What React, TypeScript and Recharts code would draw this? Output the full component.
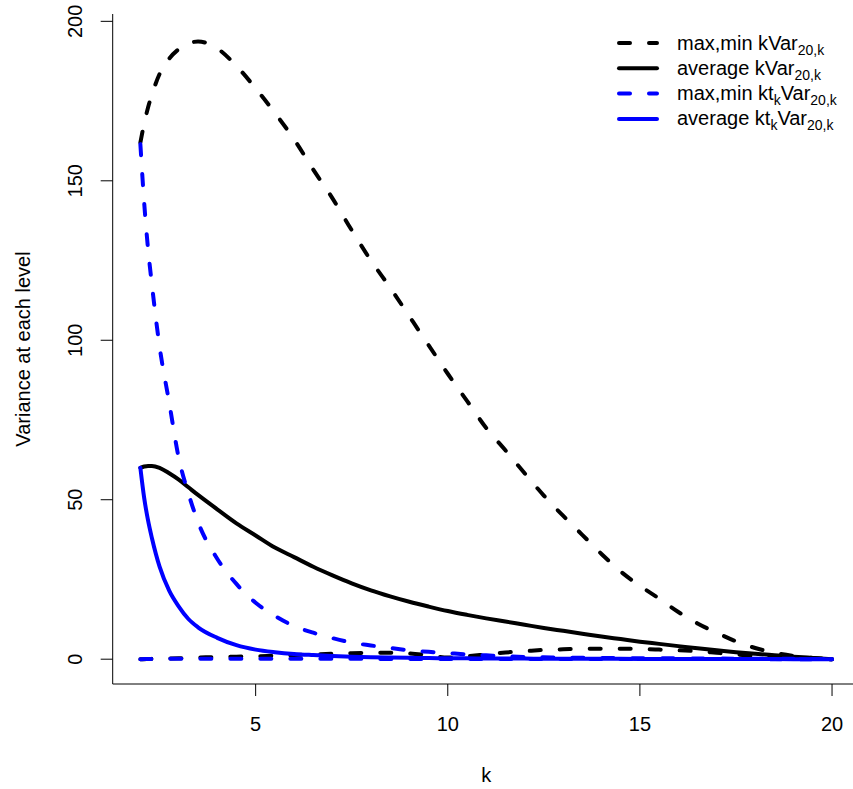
import React from 'react';
import { LineChart, Line, XAxis, YAxis, Legend, Label } from 'recharts';

// level k at which the variances were evaluated
const kValues = [2, 2.1, 2.2, 2.3, 2.5, 2.75, 3, 3.25, 3.5, 4, 4.5, 5, 5.5, 6, 6.5, 7, 7.5, 8, 8.5, 9, 9.5, 10, 10.5, 11, 11.5, 12, 12.5, 13, 13.5, 14, 14.5, 15, 15.5, 16, 16.5, 17, 17.5, 18, 18.5, 19, 19.5, 20];

// k * Var_{20,k}
const maxKVar = [162, 168, 173, 177, 183.5, 188.3, 191.3, 193, 193.7, 191.5, 186, 179, 171.3, 163, 153.5, 144.5, 134.5, 125, 116.5, 107.5, 98.5, 89.5, 81, 72.5, 65.5, 58.3, 51.3, 45, 39, 33, 27.5, 23, 19, 14.8, 11.2, 8.3, 5.6, 3.5, 2, 1, 0.4, 0];
const minKVar = [0, 0, 0.05, 0.1, 0.1, 0.2, 0.3, 0.4, 0.5, 0.7, 0.8, 0.9, 1.1, 1.3, 1.5, 1.7, 1.9, 2, 2, 1.8, 1.2, 0.5, 0.9, 1.5, 2.1, 2.5, 2.9, 3.1, 3.3, 3.3, 3.3, 3.2, 3, 2.8, 2.5, 2, 1.5, 1, 0.6, 0.3, 0.1, 0];
const avgKVar = [60, 60.4, 60.6, 60.6, 60, 58.3, 56.3, 53.9, 51.5, 47, 42.6, 38.8, 35, 32, 29, 26.3, 23.8, 21.6, 19.7, 18, 16.5, 15.1, 13.9, 12.8, 11.8, 10.8, 9.8, 8.9, 8, 7.1, 6.3, 5.5, 4.8, 4.1, 3.4, 2.8, 2.2, 1.7, 1.25, 0.8, 0.4, 0];

// k * t_k * Var_{20,k}
const maxKtVar = [161.5, 143, 128.6, 117.5, 98, 80.5, 63, 52, 43, 31.5, 23.6, 17.7, 13.6, 10.4, 8.3, 6.6, 5.2, 4.3, 3.5, 2.8, 2.3, 1.9, 1.5, 1.2, 0.9, 0.7, 0.6, 0.5, 0.45, 0.4, 0.35, 0.3, 0.28, 0.25, 0.22, 0.2, 0.17, 0.15, 0.12, 0.1, 0.05, 0];
const minKtVar = [0, 0.02, 0.05, 0.08, 0.1, 0.12, 0.15, 0.15, 0.15, 0.15, 0.15, 0.15, 0.12, 0.12, 0.1, 0.1, 0.1, 0.1, 0.08, 0.08, 0.08, 0.08, 0.06, 0.06, 0.06, 0.06, 0.05, 0.05, 0.05, 0.04, 0.04, 0.04, 0.03, 0.03, 0.03, 0.02, 0.02, 0.02, 0.01, 0.01, 0, 0];
const avgKtVar = [60, 50.5, 43.5, 38, 29, 21.5, 16.5, 12.6, 10, 6.7, 4.4, 3, 2.2, 1.65, 1.3, 1, 0.75, 0.6, 0.5, 0.42, 0.36, 0.3, 0.26, 0.23, 0.2, 0.18, 0.16, 0.14, 0.12, 0.11, 0.1, 0.09, 0.08, 0.07, 0.06, 0.05, 0.04, 0.03, 0.02, 0.01, 0.005, 0];

const xTicks = [5, 10, 15, 20];
const yTicks = [0, 50, 100, 150, 200];

const data = kValues.map((k, i) => ({
  k,
  maxK: maxKVar[i],
  minK: minKVar[i],
  avgK: avgKVar[i],
  maxKt: maxKtVar[i],
  minKt: minKtVar[i],
  avgKt: avgKtVar[i],
}));

const FONT = '"Liberation Sans", Arial, Helvetica, sans-serif';
const BLUE = '#0000ff';
const DASH = '11 19';

// R style: 4% padding on both ends of the data range
const xDomain = [1.28, 20.72];
const yDomain = [-7.78, 202.3];

const XTick = ({ x, y, payload }: any) => (
  <text x={x} y={y} dy={35} textAnchor="middle" fontSize={20} fontFamily={FONT} fill="#000">
    {payload.value}
  </text>
);

const YTick = ({ x, y, payload }: any) => (
  <text
    transform={`translate(${x - 26.2},${y}) rotate(-90)`}
    dy="0.36em"
    textAnchor="middle"
    fontSize={20}
    fontFamily={FONT}
    fill="#000"
  >
    {payload.value}
  </text>
);

const legendRows = [
  { color: '#000', dashed: true, main: 'max,min k', kt: false },
  { color: '#000', dashed: false, main: 'average k', kt: false },
  { color: BLUE, dashed: true, main: 'max,min kt', kt: true },
  { color: BLUE, dashed: false, main: 'average kt', kt: true },
];

const LegendBox = () => (
  <svg width={253} height={120} style={{ display: 'block' }}>
    {legendRows.map((r, i) => {
      const y = 23 + i * 25.3;
      return (
        <g key={i}>
          <line
            x1={19}
            x2={57}
            y1={y}
            y2={y}
            stroke={r.color}
            strokeWidth={4}
            strokeLinecap="round"
            strokeDasharray={r.dashed ? DASH : undefined}
          />
          <text x={77} y={y + 6.5} fontSize={20} fontFamily={FONT} fill="#000">
            <tspan>{r.main}</tspan>
            {r.kt && (
              <tspan dy={5} fontSize={14}>
                k
              </tspan>
            )}
            <tspan dy={r.kt ? -5 : 0}>Var</tspan>
            <tspan dy={5} fontSize={14}>
              20,k
            </tspan>
          </text>
        </g>
      );
    })}
  </svg>
);

const App: React.FC = () => {
  return (
    <div
      style={{
        position: 'fixed',
        left: 0,
        top: 0,
        width: 853,
        height: 789,
        overflow: 'hidden',
        background: '#fff',
      }}
    >
      <LineChart width={880} height={789} data={data} margin={{ top: 14, right: 20.3, left: 0, bottom: 0 }}>
        <XAxis
          dataKey="k"
          type="number"
          domain={xDomain}
          ticks={xTicks}
          allowDataOverflow
          height={105}
          tickSize={12}
          tickMargin={0}
          tick={<XTick />}
          axisLine={{ stroke: '#000' }}
          tickLine={{ stroke: '#000' }}
        >
          <Label
            content={({ viewBox }: any) => (
              <text
                x={viewBox.x + viewBox.width / 2}
                y={viewBox.y + 98}
                textAnchor="middle"
                fontSize={20}
                fontFamily={FONT}
                fill="#000"
              >
                k
              </text>
            )}
          />
        </XAxis>
        <XAxis
          xAxisId="top"
          orientation="top"
          dataKey="k"
          type="number"
          domain={xDomain}
          allowDataOverflow
          height={0}
          tick={false}
          tickLine={false}
          axisLine={{ stroke: '#000' }}
        />
        <YAxis
          type="number"
          domain={yDomain}
          ticks={yTicks}
          allowDataOverflow
          width={112.7}
          tickSize={12}
          tickMargin={0}
          tick={<YTick />}
          axisLine={{ stroke: '#000' }}
          tickLine={{ stroke: '#000' }}
        >
          <Label
            content={({ viewBox }: any) => (
              <text
                transform={`translate(${viewBox.x + 30},${viewBox.y + viewBox.height / 2}) rotate(-90)`}
                textAnchor="middle"
                fontSize={20}
                fontFamily={FONT}
                fill="#000"
              >
                Variance at each level
              </text>
            )}
          />
        </YAxis>
        <YAxis
          yAxisId="right"
          orientation="right"
          type="number"
          domain={yDomain}
          allowDataOverflow
          width={0}
          tick={false}
          tickLine={false}
          axisLine={{ stroke: '#000' }}
        />
        <Legend
          layout="horizontal"
          align="center"
          verticalAlign="middle"
          wrapperStyle={{ position: 'absolute', left: 600, top: 20, width: 253, height: 120 }}
          content={() => <LegendBox />}
        />
        <Line type="monotone" dataKey="maxK" stroke="#000" strokeWidth={4} strokeDasharray={DASH} strokeLinecap="round" dot={false} activeDot={false} isAnimationActive={false} />
        <Line type="monotone" dataKey="minK" stroke="#000" strokeWidth={4} strokeDasharray={DASH} strokeLinecap="round" dot={false} activeDot={false} isAnimationActive={false} />
        <Line type="monotone" dataKey="avgK" stroke="#000" strokeWidth={4} strokeLinecap="round" dot={false} activeDot={false} isAnimationActive={false} />
        <Line type="monotone" dataKey="maxKt" stroke={BLUE} strokeWidth={4} strokeDasharray={DASH} strokeLinecap="round" dot={false} activeDot={false} isAnimationActive={false} />
        <Line type="monotone" dataKey="minKt" stroke={BLUE} strokeWidth={4} strokeDasharray={DASH} strokeLinecap="round" dot={false} activeDot={false} isAnimationActive={false} />
        <Line type="monotone" dataKey="avgKt" stroke={BLUE} strokeWidth={4} strokeLinecap="round" dot={false} activeDot={false} isAnimationActive={false} />
      </LineChart>
    </div>
  );
};

export default App;
